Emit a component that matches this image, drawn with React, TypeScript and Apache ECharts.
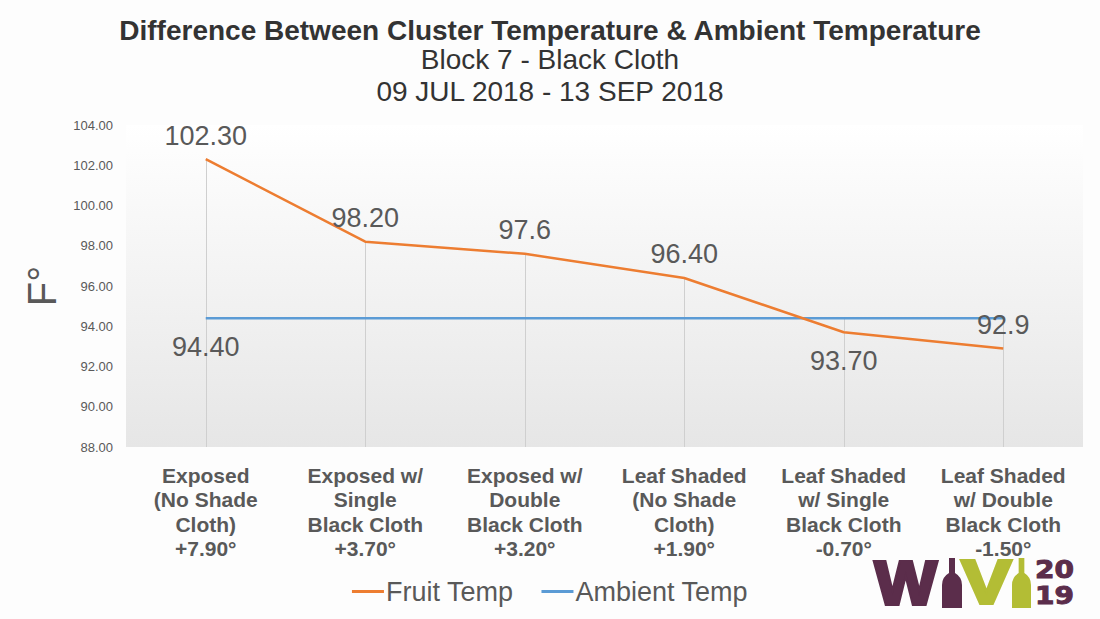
import React, { useEffect, useRef } from "react";
import * as echarts from "echarts";

const categories = [
  "Exposed\n(No Shade\nCloth)\n+7.90°",
  "Exposed w/\nSingle\nBlack Cloth\n+3.70°",
  "Exposed w/\nDouble\nBlack Cloth\n+3.20°",
  "Leaf Shaded\n(No Shade\nCloth)\n+1.90°",
  "Leaf Shaded\nw/ Single\nBlack Cloth\n-0.70°",
  "Leaf Shaded\nw/ Double\nBlack Cloth\n-1.50°",
];
const fruitTemp = [102.3, 98.2, 97.6, 96.4, 93.7, 92.9];
const fruitLabels = ["102.30", "98.20", "97.6", "96.40", "93.70", "92.9"];
const fruitLabelPos = ["top", "top", "top", "top", "bottom", "top"];
const ambientTemp = [94.4, 94.4, 94.4, 94.4, 94.4, 94.4];
const ambientLabels = ["94.40", "", "", "", "", ""];
const yMin = 88;
const yMax = 104;
const yInterval = 2;

const TEXT = "#595959";
const PURPLE = "#5b2d4b";
const GREEN = "#b3bd35";

echarts.graphic.registerShape(
  "bottle",
  echarts.graphic.extendPath(
    "M7 0 L13 0 L13 15 Q20 19 20 27 L20 50 L0 50 L0 27 Q0 19 7 15 Z",
    {}
  )
);

export default function App() {
  const ref = useRef<HTMLDivElement>(null);
  useEffect(() => {
    document.body.style.margin = "0";
    const chart = echarts.init(ref.current!, null, { renderer: "svg" });
    const dropLines = categories.map((_, i) => [
      { coord: [i, Math.max(fruitTemp[i], ambientTemp[i])] },
      { coord: [i, yMin] },
    ]);
    const labelStyle = { fontFamily: "Liberation Sans", fontSize: 27, color: TEXT };
    chart.setOption({
      animation: false,
      backgroundColor: "#fdfdfd",
      title: [
        {
          text: "Difference Between Cluster Temperature & Ambient Temperature",
          left: "center",
          top: 11,
          textStyle: { fontFamily: "Liberation Sans", fontSize: 28, fontWeight: "bold", color: "#333333" },
        },
        {
          text: "Block 7 - Black Cloth\n09 JUL 2018 - 13 SEP 2018",
          left: "center",
          top: 38,
          textStyle: { fontFamily: "Liberation Sans", fontSize: 28, fontWeight: "normal", color: "#333333", lineHeight: 32 },
        },
      ],
      grid: {
        left: 126,
        right: 17,
        top: 125,
        bottom: 172,
        show: true,
        borderWidth: 0,
        backgroundColor: new echarts.graphic.LinearGradient(0, 0, 0, 1, [
          { offset: 0, color: "#ffffff" },
          { offset: 1, color: "#e6e6e6" },
        ]),
      },
      legend: {
        top: 573,
        left: "center",
        icon: "rect",
        itemWidth: 32,
        itemHeight: 3,
        itemGap: 28,
        textStyle: { fontFamily: "Liberation Sans", fontSize: 27, color: TEXT, padding: [0, 0, 0, -3] },
        data: ["Fruit Temp", "Ambient Temp"],
      },
      xAxis: {
        type: "category",
        data: categories,
        boundaryGap: true,
        axisLine: { show: false },
        axisTick: { show: false },
        axisLabel: {
          interval: 0,
          margin: 16,
          fontFamily: "Liberation Sans",
          fontSize: 21,
          fontWeight: "bold",
          lineHeight: 24.5,
          color: TEXT,
        },
      },
      yAxis: {
        type: "value",
        min: yMin,
        max: yMax,
        interval: yInterval,
        name: "F°",
        nameLocation: "middle",
        nameRotate: 90,
        nameGap: 62,
        nameTextStyle: { fontFamily: "Liberation Sans", fontSize: 40, color: TEXT },
        splitLine: { show: false },
        axisLine: { show: false },
        axisTick: { show: false },
        axisLabel: {
          margin: 13,
          fontFamily: "Liberation Sans",
          fontSize: 13,
          color: TEXT,
          formatter: (v: number) => v.toFixed(2),
        },
      },
      series: [
        {
          name: "Fruit Temp",
          type: "line",
          symbol: "circle",
          symbolSize: 0.01,
          showSymbol: true,
          z: 3,
          lineStyle: { color: "#ed7d31", width: 2.5 },
          itemStyle: { color: "#ed7d31" },
          data: fruitTemp.map((v, i) => ({
            value: v,
            label: {
              show: true,
              position: fruitLabelPos[i],
              distance: fruitLabelPos[i] === "bottom" ? 15 : 10,
              formatter: fruitLabels[i],
              ...labelStyle,
            },
          })),
          markLine: {
            silent: true,
            symbol: "none",
            label: { show: false },
            lineStyle: { color: "#cfcfcf", width: 1, type: "solid" },
            data: dropLines,
            z: 1,
          },
        },
        {
          name: "Ambient Temp",
          type: "line",
          symbol: "circle",
          symbolSize: 0.01,
          showSymbol: true,
          z: 2,
          lineStyle: { color: "#5b9bd5", width: 2.5 },
          itemStyle: { color: "#5b9bd5" },
          data: ambientTemp.map((v, i) => ({
            value: v,
            label: {
              show: ambientLabels[i] !== "",
              position: "bottom",
              distance: 15,
              formatter: ambientLabels[i],
              ...labelStyle,
            },
          })),
        },
      ],
      graphic: [
        {
          type: "text",
          x: 875,
          y: 551,
          style: { text: "W", fontFamily: "Liberation Sans", fontWeight: "bold", fontSize: 62, fill: PURPLE, stroke: PURPLE, lineWidth: 4 },
          scaleX: 1.05,
        },
        { type: "bottle", x: 942, y: 558, scaleX: 1.0, scaleY: 1.0, style: { fill: PURPLE } },
        {
          type: "text",
          x: 962,
          y: 551,
          scaleX: 1.18,
          style: { text: "V", fontFamily: "Liberation Sans", fontWeight: "bold", fontSize: 62, fill: GREEN, stroke: GREEN, lineWidth: 4 },
        },
        { type: "bottle", x: 1012, y: 558, scaleX: 0.95, scaleY: 1.0, style: { fill: GREEN } },
        {
          type: "text",
          x: 1035,
          y: 557,
          scaleX: 1.12,
          style: { text: "20", fontFamily: "DejaVu Sans", fontWeight: "bold", fontSize: 25, fill: PURPLE, stroke: PURPLE, lineWidth: 1 },
        },
        {
          type: "text",
          x: 1035,
          y: 583,
          scaleX: 1.12,
          style: { text: "19", fontFamily: "DejaVu Sans", fontWeight: "bold", fontSize: 25, fill: PURPLE, stroke: PURPLE, lineWidth: 1 },
        },
      ],
    });
    return () => chart.dispose();
  }, []);
  return <div ref={ref} style={{ position: "absolute", left: 0, top: 0, width: 1100, height: 619 }} />;
}
